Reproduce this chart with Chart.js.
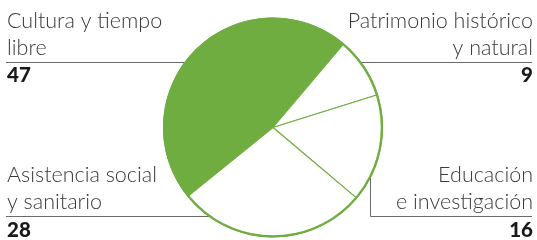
<!DOCTYPE html>
<html>
<head>
<meta charset="utf-8">
<script src="https://cdn.jsdelivr.net/npm/chart.js@4.4.1/dist/chart.umd.min.js"></script>
<style>
  html, body { margin: 0; padding: 0; background: #fff; }
  #wrap { width: 537px; height: 240px; position: relative; }
</style>
</head>
<body>
<div id="wrap"><canvas id="pieChart" width="537" height="240"></canvas></div>
<script>
// data, clockwise starting from the green slice
const categories = ['Cultura y tiempo libre', 'Patrimonio histórico y natural', 'Educación e investigación', 'Asistencia social y sanitario'];
const values = [47, 9, 16, 28];
const labelLines = [
  ['Cultura y tiempo', 'libre'],
  ['Patrimonio histórico', 'y natural'],
  ['Educación', 'e investigación'],
  ['Asistencia social', 'y sanitario']
];
const sliceColors = ['#70ad40', '#ffffff', '#ffffff', '#ffffff'];

const GREEN = '#70ad40';

// labels + leader lines, drawn under the pie
const calloutPlugin = {
  id: 'callouts',
  beforeDatasetsDraw(chart) {
    const ctx = chart.ctx;
    const W = chart.width;
    ctx.save();
    ctx.strokeStyle = '#6a6a6a';
    ctx.lineWidth = 1;
    ctx.beginPath();
    // top left / top right
    ctx.moveTo(6, 62.5); ctx.lineTo(260, 62.5);
    ctx.moveTo(290, 62.5); ctx.lineTo(W - 5, 62.5);
    // bottom left
    ctx.moveTo(6, 216.5); ctx.lineTo(260, 216.5);
    // bottom right elbow
    ctx.moveTo(370.5, 150); ctx.lineTo(370.5, 216.5); ctx.lineTo(W - 5, 216.5);
    ctx.stroke();

    const spots = [
      { x: 7, y: 27.5, align: 'left' },
      { x: W - 4, y: 27.5, align: 'right' },
      { x: W - 4, y: 182, align: 'right' },
      { x: 7, y: 182, align: 'left' }
    ];
    spots.forEach((s, i) => {
      ctx.textAlign = s.align;
      ctx.textBaseline = 'alphabetic';
      ctx.fillStyle = '#3a3a3a';
      ctx.font = '300 21.5px Lato, "Open Sans", sans-serif';
      ctx.fillText(labelLines[i][0], s.x, s.y);
      ctx.fillText(labelLines[i][1], s.x, s.y + 27);
      ctx.fillStyle = '#1a1a1a';
      ctx.font = '900 20.5px Lato, "Open Sans", sans-serif';
      ctx.fillText(String(values[i]), s.x, s.y + 54.5);
    });
    ctx.restore();
  },
  afterDatasetsDraw(chart) {
    // thicker outer ring
    const arc = chart.getDatasetMeta(0).data[0];
    const ctx = chart.ctx;
    ctx.save();
    ctx.strokeStyle = GREEN;
    ctx.lineWidth = 2.3;
    ctx.beginPath();
    ctx.arc(arc.x, arc.y, arc.outerRadius - 0.6, 0, Math.PI * 2);
    ctx.stroke();
    ctx.restore();
  }
};

new Chart(document.getElementById('pieChart').getContext('2d'), {
  type: 'pie',
  data: {
    labels: categories,
    datasets: [{
      data: values,
      backgroundColor: sliceColors,
      borderColor: GREEN,
      borderWidth: 1.1,
      hoverOffset: 0
    }]
  },
  options: {
    responsive: false,
    animation: false,
    events: [],
    rotation: 231,
    radius: 109.5,
    layout: { padding: { left: 9, right: 0, top: 15, bottom: 0 } },
    plugins: {
      legend: { display: false },
      tooltip: { enabled: false }
    }
  },
  plugins: [calloutPlugin]
});
</script>
</body>
</html>
